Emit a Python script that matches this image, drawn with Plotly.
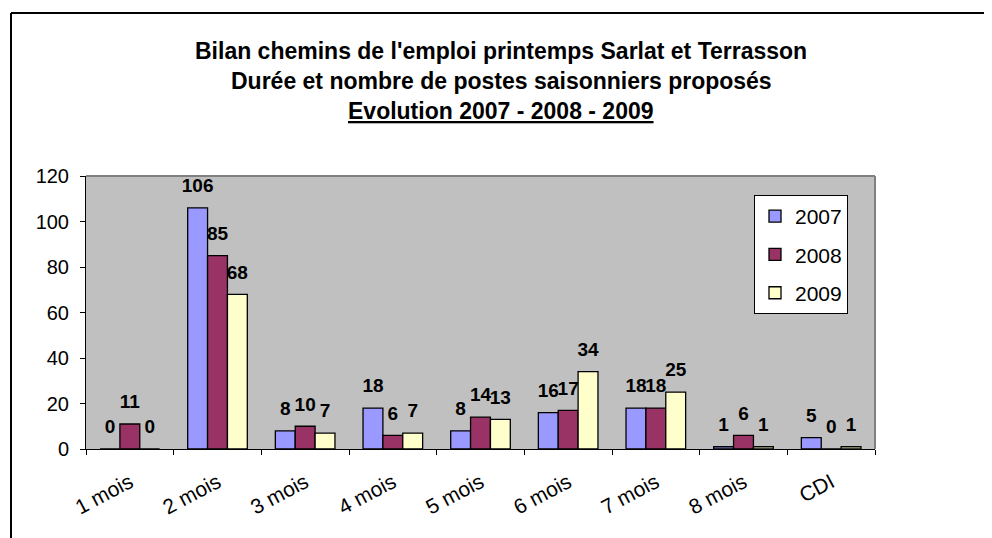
import plotly.graph_objects as go

# data
categories = ['1 mois', '2 mois', '3 mois', '4 mois', '5 mois', '6 mois', '7 mois', '8 mois', 'CDI']
years = ['2007', '2008', '2009']
values_2007 = [0, 106, 8, 18, 8, 16, 18, 1, 5]
values_2008 = [11, 85, 10, 6, 14, 17, 18, 6, 0]
values_2009 = [0, 68, 7, 7, 13, 34, 25, 1, 1]

colors = ['#9999FF', '#993366', '#FFFFCC']
FONT = 'Liberation Sans, Arial, sans-serif'

OFF = 8  # page body margin
W, H = 992 - OFF, 538 - OFF
# plot area in screenshot pixels, shifted by the body margin
L, R, T, B = 86 - OFF, 875 - OFF, 176 - OFF, 449 - OFF


def px_x(x):
    return (x - OFF - L) / (R - L)


def px_y(y):
    return (B - (y - OFF)) / (B - T)


fig = go.Figure()

for name, vals, col in zip(years, [values_2007, values_2008, values_2009], colors):
    fig.add_trace(go.Bar(
        x=categories, y=vals, name=name,
        marker=dict(color=col, line=dict(color='black', width=1.3)),
        offsetgroup=name, legendgroup=name,
    ))

# data labels: text-only scatter, grouped like the bars, lifted a bit
# above the bar tops by an invisible marker
for name, vals in zip(years, [values_2007, values_2008, values_2009]):
    fig.add_trace(go.Scatter(
        x=categories, y=vals, mode='markers+text',
        text=[f'<b>{v}</b>' for v in vals], textposition='top center',
        textfont=dict(family=FONT, size=19, color='black'),
        marker=dict(size=16, opacity=0),
        offsetgroup=name, showlegend=False, cliponaxis=False,
        hoverinfo='skip',
    ))

# title lines
title_lines = [
    "<b>Bilan chemins de l'emploi printemps Sarlat et Terrasson</b>",
    "<b>Durée et nombre de postes saisonniers proposés</b>",
    "<b><u>Evolution 2007 - 2008 - 2009</u></b>",
]
for i, txt in enumerate(title_lines):
    fig.add_annotation(
        text=txt, xref='paper', yref='paper',
        x=px_x(501), y=px_y(51 + i * 30),
        xanchor='center', yanchor='middle', showarrow=False,
        font=dict(family=FONT, size=23, color='black'),
    )

# outer chart frame (top and left visible)
fig.add_shape(type='line', xref='paper', yref='paper',
              x0=px_x(11), x1=px_x(1000), y0=px_y(13), y1=px_y(13),
              line=dict(color='black', width=2))
fig.add_shape(type='line', xref='paper', yref='paper',
              x0=px_x(11), x1=px_x(11), y0=px_y(13), y1=px_y(545),
              line=dict(color='black', width=2))
# plot area border top / right
fig.add_shape(type='line', xref='paper', yref='paper',
              x0=0, x1=1, y0=1, y1=1, line=dict(color='#808080', width=2))
fig.add_shape(type='line', xref='paper', yref='paper',
              x0=1, x1=1, y0=0, y1=1, line=dict(color='#808080', width=2))

fig.update_layout(
    width=W, height=H,
    margin=dict(l=L, r=W - R, t=T, b=H - B),
    paper_bgcolor='white', plot_bgcolor='#C0C0C0',
    barmode='group', bargap=0.32, bargroupgap=0,
    scattermode='group', scattergap=0.32,
    font=dict(family=FONT, size=20, color='black'),
    showlegend=True,
    legend=dict(
        x=px_x(754), y=px_y(195), xanchor='left', yanchor='top',
        bgcolor='white', bordercolor='black', borderwidth=1,
        font=dict(family=FONT, size=21, color='black'),
        traceorder='grouped', tracegroupgap=8, itemwidth=30,
    ),
)

fig.update_xaxes(
    showgrid=False, showline=True, linecolor='black', linewidth=1,
    ticks='outside', ticklen=5, tickcolor='black', tickson='boundaries',
    tickangle=-28, ticklabelstandoff=12,
    tickfont=dict(family=FONT, size=21, color='black'),
)
fig.update_yaxes(
    range=[0, 120], dtick=20, showgrid=False, zeroline=False,
    showline=True, linecolor='black', linewidth=1,
    ticks='outside', ticklen=5, tickcolor='black', ticklabelstandoff=7,
    tickfont=dict(family=FONT, size=20, color='black'),
)

fig.write_html('out.html')
